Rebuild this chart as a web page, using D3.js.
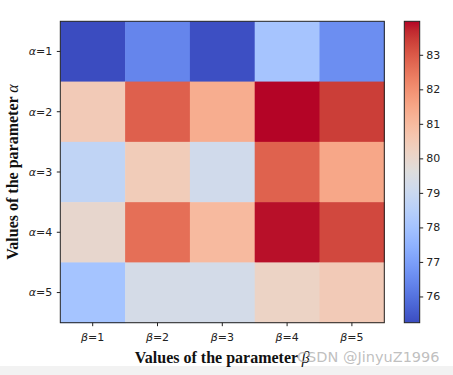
<!DOCTYPE html>
<html><head><meta charset="utf-8">
<script src="https://d3js.org/d3.v7.min.js"></script>
<style>html,body{margin:0;padding:0;background:#fff;}</style>
</head><body>
<svg id="c" width="453" height="375"></svg>
<script>
const betaLabels = ["1","2","3","4","5"];
const alphaLabels = ["1","2","3","4","5"];
const row1 = [75.24, 76.40, 75.30, 78.05, 76.60];
const row2 = [80.48, 82.88, 81.35, 83.97, 83.42];
const row3 = [78.73, 80.42, 79.17, 82.85, 81.50];
const row4 = [79.96, 82.62, 81.00, 83.88, 83.27];
const row5 = [78.03, 79.30, 79.28, 80.15, 80.48];
const values = [row1,row2,row3,row4,row5];
const vmin = 75.24, vmax = 83.97;
const cbTicks = [76,77,78,79,80,81,82,83];

// matplotlib-like coolwarm control points
const cw = [[59,76,192],[68,90,204],[77,104,215],[87,117,225],[98,130,234],[108,142,241],[119,154,247],[130,165,251],[141,176,254],[152,185,255],[163,194,255],[174,201,253],[184,208,249],[194,213,244],[204,217,238],[213,219,230],[221,221,221],[229,216,209],[236,211,197],[241,204,185],[245,196,173],[247,187,160],[247,177,148],[247,166,135],[244,154,123],[241,141,111],[236,127,99],[229,112,88],[222,96,77],[213,80,66],[203,62,56],[192,40,47],[180,4,38]];
const cwScale = d3.scaleLinear().domain(cw.map((d,i)=>i/(cw.length-1))).range(cw.map(c=>`rgb(${c[0]},${c[1]},${c[2]})`)).interpolate(d3.interpolateRgb).clamp(true);
const norm = d3.scaleLinear().domain([vmin,vmax]).range([0,1]).clamp(true);
const color = v => cwScale(norm(v));

const svg = d3.select("#c");
svg.append("rect").attr("x",0).attr("y",366).attr("width",453).attr("height",9).attr("fill","#f2f2f2");

const L=60.3, R=384.3, T=21.3, B=322.7;
const x = d3.scaleBand().domain(betaLabels).range([L,R]);
const y = d3.scaleBand().domain(alphaLabels).range([T,B]);

const cells = [];
values.forEach((row,i)=>row.forEach((v,j)=>cells.push({a:alphaLabels[i],b:betaLabels[j],v})));
svg.append("g").selectAll("rect").data(cells).join("rect")
  .attr("x",d=>x(d.b)).attr("y",d=>y(d.a))
  .attr("width",x.bandwidth()+0.5).attr("height",y.bandwidth()+0.5)
  .attr("fill",d=>color(d.v));
svg.append("rect").attr("x",L).attr("y",T).attr("width",R-L).attr("height",B-T)
  .attr("fill","none").attr("stroke","#222").attr("stroke-width",1);

const tickFont = "DejaVu Sans";
// x axis
const gx = svg.append("g").attr("transform",`translate(0,${B})`)
  .call(d3.axisBottom(x).tickSize(3.5).tickPadding(3).tickFormat(""));
gx.select(".domain").remove();
gx.selectAll("line").attr("stroke","#222");
gx.selectAll(".tick").append("text").attr("y",18).attr("text-anchor","middle")
  .attr("font-family",tickFont).attr("font-size",11).attr("fill","#222")
  .each(function(d){const t=d3.select(this);t.append("tspan").attr("font-style","italic").text("β");t.append("tspan").text("="+d);});

// y axis
const gy = svg.append("g").attr("transform",`translate(${L},0)`)
  .call(d3.axisLeft(y).tickSize(3.5).tickPadding(3).tickFormat(""));
gy.select(".domain").remove();
gy.selectAll("line").attr("stroke","#222");
gy.selectAll(".tick").append("text").attr("x",-8).attr("dy","0.35em").attr("text-anchor","end")
  .attr("font-family",tickFont).attr("font-size",11).attr("fill","#222")
  .each(function(d){const t=d3.select(this);t.append("tspan").attr("font-style","italic").text("α");t.append("tspan").text("="+d);});

// axis titles
const serif = "Liberation Serif";
const xt = svg.append("text").attr("x",(L+R)/2).attr("y",363).attr("text-anchor","middle")
  .attr("font-family",serif).attr("font-weight","bold").attr("font-size",16).attr("fill","#111");
xt.append("tspan").text("Values of the parameter ");
xt.append("tspan").attr("font-style","italic").attr("font-weight","normal").text("β");
const yt = svg.append("text").attr("transform",`translate(18,${(T+B)/2}) rotate(-90)`).attr("text-anchor","middle")
  .attr("font-family",serif).attr("font-weight","bold").attr("font-size",16).attr("fill","#111");
yt.append("tspan").text("Values of the parameter ");
yt.append("tspan").attr("font-style","italic").attr("font-weight","normal").text("α");

// colorbar
const cbL=404.3, cbW=15.4;
const cy = d3.scaleLinear().domain([vmin,vmax]).range([B,T]);
const defs = svg.append("defs");
const grad = defs.append("linearGradient").attr("id","cwg").attr("x1",0).attr("y1",1).attr("x2",0).attr("y2",0);
cw.forEach((c,i)=>grad.append("stop").attr("offset",i/(cw.length-1)).attr("stop-color",`rgb(${c[0]},${c[1]},${c[2]})`));
svg.append("rect").attr("x",cbL).attr("y",T).attr("width",cbW).attr("height",B-T).attr("fill","url(#cwg)")
  .attr("stroke","#222").attr("stroke-width",1);
const gc = svg.append("g").attr("transform",`translate(${cbL+cbW},0)`)
  .call(d3.axisRight(cy).tickValues(cbTicks).tickSize(3.5).tickPadding(3).tickFormat(d3.format("d")));
gc.select(".domain").remove();
gc.selectAll("line").attr("stroke","#222");
gc.selectAll("text").attr("font-family",tickFont).attr("font-size",11).attr("fill","#222");

// watermark
svg.append("text").attr("x",297).attr("y",362).attr("font-family","DejaVu Sans").attr("font-size",14.5)
  .attr("fill","#b8b8b8").attr("fill-opacity",0.9).text("CSDN @JinyuZ1996");
</script>
</body></html>
